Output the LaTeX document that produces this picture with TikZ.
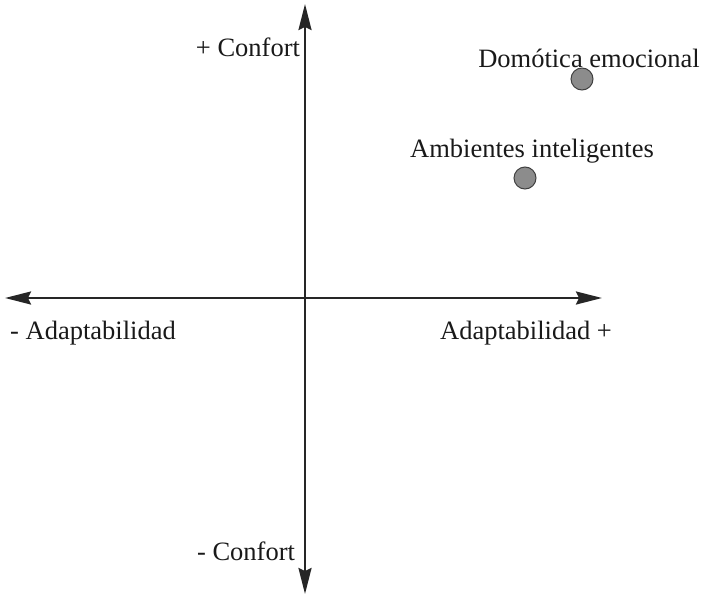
\documentclass[tikz,border=0pt]{standalone}
\usepackage{fontspec}
\setmainfont{Liberation Serif}
\usetikzlibrary{arrows.meta}
\begin{document}
\begin{tikzpicture}[x=1pt,y=-1pt,
  axis/.style={line width=2.4pt,color=black!85,{Stealth[length=26pt,width=13pt,inset=3pt]}-{Stealth[length=26pt,width=13pt,inset=3pt]}},
  lbl/.style={font=\fontsize{26.5}{31}\selectfont,inner sep=0pt,text=black!90},
  dot/.style={circle,draw=black!75,line width=1pt,fill=black!45,minimum size=22pt,inner sep=0pt}]
\useasboundingbox (0,0) rectangle (701,597);
\coordinate (top) at (305,4);
\coordinate (bot) at (305,594);
\coordinate (left) at (5,298);
\coordinate (right) at (602,298);
\draw[axis] (bot) -- (top);
\draw[axis] (left) -- (right);
\node[lbl] (cplus) at (248,47) {+ Confort};
\node[lbl] (cminus) at (246,551) {- Confort};
\node[lbl] (aminus) at (93,333) {- Adaptabilidad};
\node[lbl] (aplus) at (526,333) {Adaptabilidad +};
\node[dot] (d1) at (582,79) {};
\node[dot] (d2) at (525,178) {};
\node[lbl] (l1) at (589,58) {Domótica emocional};
\node[lbl] (l2) at (532,151) {Ambientes inteligentes};
\end{tikzpicture}
\end{document}
